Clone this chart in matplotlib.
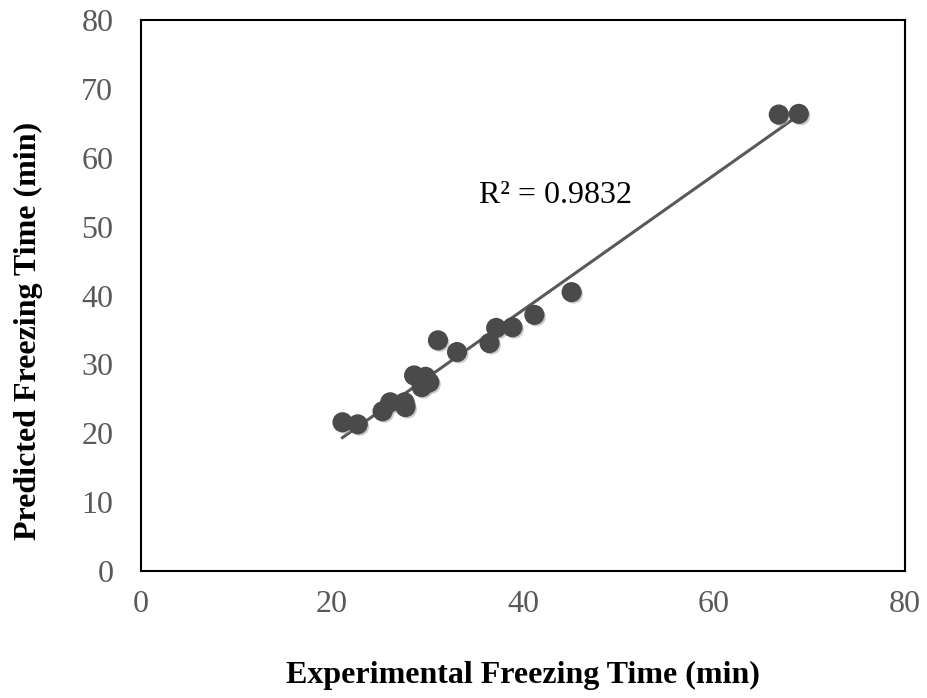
import matplotlib.pyplot as plt
import matplotlib.patheffects as pe
import numpy as np

# experimental vs predicted freezing time (min)
expTime = [21.1, 22.7, 25.3, 26.1, 27.6, 27.7, 28.6, 29.8, 30.2, 29.4,
           31.1, 33.1, 36.5, 37.2, 38.9, 41.2, 45.1, 66.8, 68.9]
predTime = [21.6, 21.3, 23.2, 24.5, 24.5, 23.8, 28.4, 28.2, 27.4, 26.7,
            33.5, 31.8, 33.1, 35.3, 35.4, 37.2, 40.5, 66.3, 66.4]
ticks = [0, 20, 40, 60, 80]
yticks = [0, 10, 20, 30, 40, 50, 60, 70, 80]

plt.rcParams['font.family'] = ['Liberation Serif', 'DejaVu Serif']

fig = plt.figure(figsize=(9.28, 6.98), dpi=100)
ax = fig.add_axes([0.152, 0.182, 0.823, 0.789])

#linear trendline
x = np.array(expTime)
y = np.array(predTime)
slope, intercept = np.polyfit(x, y, 1)
xs = np.array([x.min(), x.max()])
ax.plot(xs, slope * xs + intercept, color='#595959', lw=2.2, zorder=2)

shadow = [pe.SimplePatchShadow(offset=(1.5, -1.5), shadow_rgbFace='#999999', alpha=0.5), pe.Normal()]
ax.plot(x, y, 'o', ms=13.5, color='#4a4a4a', mec='#4a4a4a', zorder=3,
        path_effects=shadow)

ax.text(35.4, 53.4, 'R² = 0.9832', fontsize=23, color='black')

ax.set_xlim(0, 80)
ax.set_ylim(0, 80)
ax.set_xticks(ticks)
ax.set_yticks(yticks)
ax.tick_params(length=0, labelsize=23, labelcolor='#595959')
ax.tick_params(axis='x', pad=14)
ax.tick_params(axis='y', pad=20)
for s in ax.spines.values():
    s.set_linewidth(1.5)
    s.set_color('black')

ax.set_xlabel('Experimental Freezing Time (min)', fontsize=23, fontweight='bold', labelpad=30)
ax.set_ylabel('Predicted Freezing Time (min)', fontsize=23, fontweight='bold')
#label sits a bit lower than the axes centre in the original
ax.yaxis.set_label_coords(-0.128, 0.436)

plt.savefig('out.png', dpi=100)
